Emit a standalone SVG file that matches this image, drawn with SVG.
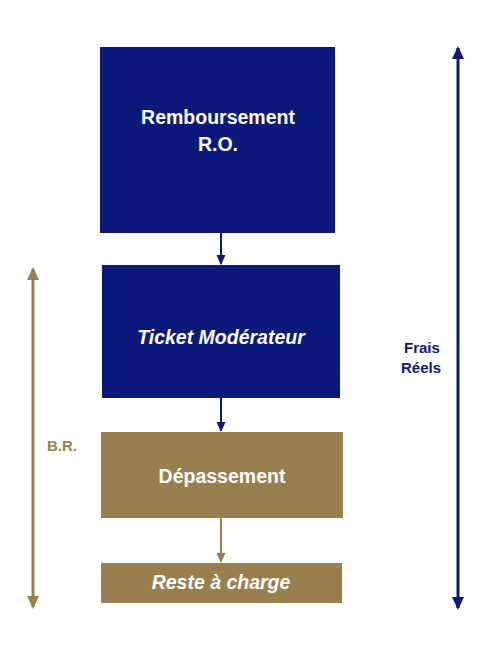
<svg xmlns="http://www.w3.org/2000/svg" width="497" height="645" viewBox="0 0 497 645">
<style>
.navy{fill:#0B1A7A}
.gold{fill:#98804E}
.t{font-family:"Liberation Sans",Arial,sans-serif;font-weight:bold;font-size:19.5px;fill:#FFFFFF;text-anchor:middle}
.i{font-style:italic}
.lbl{font-family:"Liberation Sans",Arial,sans-serif;font-weight:bold;font-size:15px}
.cn{stroke:#0B1A7A;stroke-width:2;fill:none}
.cg{stroke:#98804E;stroke-width:2;fill:none}
</style>
<defs>
<marker id="an" markerWidth="10" markerHeight="10" refX="9" refY="4.5" orient="auto-start-reverse" markerUnits="userSpaceOnUse"><path d="M0,0 L10,4.5 L0,9 Z" fill="#0B1A7A"/></marker>
<marker id="ag" markerWidth="10" markerHeight="10" refX="9" refY="4.5" orient="auto-start-reverse" markerUnits="userSpaceOnUse"><path d="M0,0 L10,4.5 L0,9 Z" fill="#98804E"/></marker>
<marker id="bn" markerWidth="13" markerHeight="13" refX="11" refY="6" orient="auto-start-reverse" markerUnits="userSpaceOnUse"><path d="M0,0 L13,6 L0,12 Z" fill="#0B1A7A"/></marker>
<marker id="bg" markerWidth="13" markerHeight="13" refX="11" refY="6" orient="auto-start-reverse" markerUnits="userSpaceOnUse"><path d="M0,0 L13,6 L0,12 Z" fill="#98804E"/></marker>
</defs>
<rect width="497" height="645" fill="#FFFFFF"/>
<g id="remboursement">
<rect class="navy" x="100" y="47" width="235" height="186"/>
<text class="t" x="218" y="124">Remboursement</text>
<text class="t" x="218" y="151">R.O.</text>
</g>
<g id="ticket">
<rect class="navy" x="102" y="265" width="238" height="133"/>
<text class="t i" x="221" y="344">Ticket Modérateur</text>
</g>
<g id="depassement">
<rect class="gold" x="101" y="432" width="242" height="86"/>
<text class="t" x="222" y="483">Dépassement</text>
</g>
<g id="reste">
<rect class="gold" x="101" y="563" width="241" height="40"/>
<text class="t i" x="221" y="589">Reste à charge</text>
</g>
<g id="labels">
<text class="lbl" x="47" y="451" fill="#98804E">B.R.</text>
<text class="lbl" x="404" y="353" fill="#0B1A7A">Frais</text>
<text class="lbl" x="401" y="373" fill="#0B1A7A">Réels</text>
</g>
<g id="connectors">
<line class="cn" x1="221" y1="233" x2="221" y2="264" marker-end="url(#an)"/>
<line class="cn" x1="221" y1="398" x2="221" y2="431" marker-end="url(#an)"/>
<line class="cg" x1="221" y1="518" x2="221" y2="562" marker-end="url(#ag)"/>
<line class="cg" x1="33" y1="269" x2="33" y2="607" marker-start="url(#bg)" marker-end="url(#bg)" style="stroke-width:3"/>
<line class="cn" x1="458" y1="48" x2="458" y2="608" marker-start="url(#bn)" marker-end="url(#bn)" style="stroke-width:3"/>
</g>
</svg>
